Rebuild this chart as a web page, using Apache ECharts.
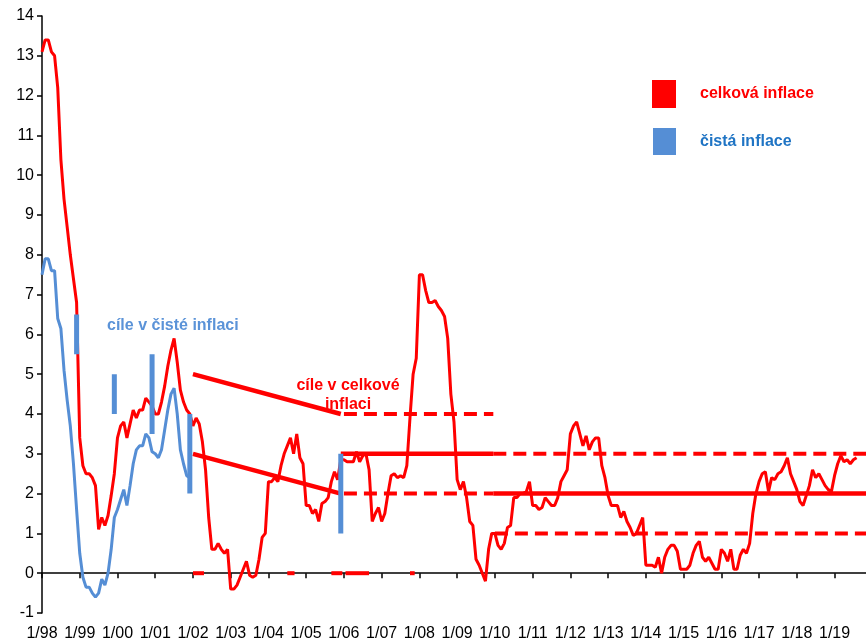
<!DOCTYPE html>
<html><head><meta charset="utf-8">
<script src="https://cdn.jsdelivr.net/npm/echarts@6/dist/echarts.min.js"></script>
<style>html,body{margin:0;padding:0;background:#fff}#c{width:866px;height:642px}</style>
</head><body><div id="c"></div>
<script>
// month index 0 = 1/1998
const tickLabels = ['1/98','1/99','1/00','1/01','1/02','1/03','1/04','1/05','1/06','1/07','1/08','1/09','1/10','1/11','1/12','1/13','1/14','1/15','1/16','1/17','1/18','1/19'];
const tickMonths = tickLabels.map((_, i) => i * 12);

// celková inflace (headline), monthly from 1/98
const headline = [
  13.1, 13.4, 13.4, 13.1, 13.0, 12.2, 10.4, 9.4, 8.7, 8.0, 7.4, 6.8,
  3.4, 2.7, 2.5, 2.5, 2.4, 2.2, 1.1, 1.4, 1.2, 1.45, 1.95, 2.5,
  3.4, 3.7, 3.8, 3.4, 3.75, 4.1, 3.9, 4.1, 4.1, 4.4, 4.3, 4.2,
  4.0, 4.0, 4.3, 4.7, 5.2, 5.6, 5.9, 5.3, 4.6, 4.3, 4.1, 4.0,
  3.7, 3.9, 3.75, 3.3, 2.6, 1.4, 0.6, 0.6, 0.75, 0.6, 0.5, 0.6,
  -0.4, -0.4, -0.3, -0.1, 0.1, 0.3, -0.05, -0.1, -0.05, 0.35, 0.9, 1.0,
  2.3, 2.3, 2.4, 2.3, 2.7, 3.0, 3.2, 3.4, 3.0, 3.5, 2.9, 2.75,
  1.7, 1.7, 1.5, 1.6, 1.3, 1.75, 1.8, 1.9, 2.3, 2.55, 2.35, 2.85,
  2.85, 2.8, 2.8, 2.8, 3.05, 2.8, 2.95, 3.0, 2.6, 1.3, 1.5, 1.65,
  1.3, 1.5, 2.0, 2.45, 2.5, 2.4, 2.45, 2.4, 2.7, 3.9, 5.0, 5.4,
  7.5, 7.5, 7.1, 6.8, 6.8, 6.85, 6.7, 6.6, 6.45, 5.9, 4.5, 3.8,
  2.35, 2.1, 2.3, 1.9, 1.3, 1.2, 0.35, 0.2, 0.0, -0.2, 0.6, 1.0,
  1.0, 0.7, 0.6, 0.75, 1.15, 1.2, 1.9, 1.9, 2.0, 2.0, 2.05, 2.3,
  1.7, 1.7, 1.6, 1.65, 1.9, 1.8, 1.7, 1.7, 1.9, 2.3, 2.45, 2.6,
  3.5, 3.7, 3.8, 3.5, 3.2, 3.45, 3.1, 3.3, 3.4, 3.4, 2.7, 2.4,
  1.95, 1.7, 1.7, 1.7, 1.4, 1.55, 1.3, 1.15, 0.95, 1.0, 1.2, 1.4,
  0.2, 0.2, 0.2, 0.15, 0.4, 0.0, 0.4, 0.6, 0.7, 0.7, 0.55, 0.1,
  0.1, 0.1, 0.2, 0.5, 0.7, 0.8, 0.4, 0.3, 0.4, 0.25, 0.1, 0.1,
  0.6, 0.5, 0.3, 0.6, 0.1, 0.1, 0.45, 0.6, 0.5, 0.75, 1.5, 2.0,
  2.3, 2.5, 2.55, 2.05, 2.4, 2.35, 2.5, 2.55, 2.7, 2.9, 2.5, 2.3,
  2.1, 1.8, 1.7, 1.95, 2.2, 2.6, 2.4, 2.5, 2.35, 2.2, 2.1, 2.05,
  2.45, 2.75, 2.95, 2.8, 2.85, 2.75, 2.85, 2.9
];

// čistá inflace (net inflation), monthly from 1/98
const core = [
  7.5, 7.9, 7.9, 7.6, 7.6, 6.4, 6.15, 5.1, 4.35, 3.7, 2.75, 1.6,
  0.5, -0.1, -0.35, -0.35, -0.5, -0.6, -0.5, -0.15, -0.3, 0.0, 0.6, 1.4,
  1.6, 1.85, 2.1, 1.7, 2.2, 2.75, 3.1, 3.2, 3.2, 3.5, 3.4, 3.05,
  3.0, 2.9, 3.1, 3.6, 4.1, 4.5, 4.65, 4.0, 3.1, 2.75, 2.45, 2.4
];

// targets for net inflation (vertical bands), December months
const coreTargetMonths = [11, 23, 35, 47, 95];
const coreTargetLow  = [5.5, 4.0, 3.5, 2.0, 1.0];
const coreTargetHigh = [6.5, 5.0, 5.5, 4.0, 3.0];

// targets for headline inflation: [startMonth, startValue, endMonth, endValue]
const headlineTargetSolid = [
  [48, 5, 95, 4],
  [48, 3, 95, 2],
  [95, 3, 143.5, 3],
  [143.5, 2, 262, 2]
];
const headlineTargetDashed = [
  [96, 4, 143.5, 4],
  [96, 2, 143.5, 2],
  [143.5, 3, 262, 3],
  [144, 1, 262, 1]
];
// short red segments on the zero line: [startMonth, endMonth]
const zeroSegments = [[48, 51.5], [78, 80.3], [92, 95.5], [96.5, 104], [117, 118.5]];

const RED = '#ff0000';
const BLUE = '#558ED5';
const FONT = '"Liberation Sans", Arial, sans-serif';

const series = [];
headlineTargetSolid.forEach(s => series.push({
  type: 'line', silent: true, symbol: 'none', z: 2,
  data: [[s[0], s[1]], [s[2], s[3]]],
  lineStyle: { color: RED, width: 4.5 }
}));
headlineTargetDashed.forEach(s => series.push({
  type: 'line', silent: true, symbol: 'none', z: 2,
  data: [[s[0], s[1]], [s[2], s[3]]],
  lineStyle: { color: RED, width: 4, type: [13, 7] }
}));
zeroSegments.forEach(s => series.push({
  type: 'line', silent: true, symbol: 'none', z: 2,
  data: [[s[0], 0], [s[1], 0]],
  lineStyle: { color: RED, width: 4 }
}));
series.push({
  name: 'celková inflace', type: 'line', symbol: 'none', z: 4,
  data: headline.map((v, i) => [i, v]),
  itemStyle: { color: RED },
  lineStyle: { color: RED, width: 3 }
});
series.push({
  name: 'čistá inflace', type: 'line', symbol: 'none', z: 4,
  data: core.map((v, i) => [i, v]),
  itemStyle: { color: BLUE },
  lineStyle: { color: BLUE, width: 3 }
});
coreTargetMonths.forEach((m, i) => series.push({
  type: 'line', silent: true, symbol: 'none', z: 6,
  data: [[m, coreTargetLow[i]], [m, coreTargetHigh[i]]],
  lineStyle: { color: BLUE, width: 5, cap: 'butt' }
}));

const chart = echarts.init(document.getElementById('c'), null, { renderer: 'canvas' });
chart.setOption({
  animation: false,
  backgroundColor: '#fff',
  grid: { left: 42, right: 0, top: 16, bottom: 29, containLabel: false, outerBoundsMode: 'none' },
  xAxis: {
    type: 'value', min: 0, max: 262, interval: 12,
    axisLine: { onZero: true, lineStyle: { color: '#000', width: 1.5 } },
    axisTick: { show: true, length: 5, inside: false, customValues: tickMonths, lineStyle: { color: '#000', width: 1.5 } },
    axisLabel: {
      margin: 13, fontSize: 16, color: '#000', fontFamily: FONT,
      customValues: tickMonths,
      formatter: v => tickLabels[Math.round(v / 12)] || ''
    },
    splitLine: { show: false }
  },
  yAxis: {
    type: 'value', min: -1, max: 14, interval: 1,
    axisLine: { show: true, onZero: false, lineStyle: { color: '#000', width: 1.5 } },
    axisTick: { show: true, length: 5, lineStyle: { color: '#000', width: 1.5 } },
    axisLabel: { margin: 8, fontSize: 16, color: '#000', fontFamily: FONT },
    splitLine: { show: false }
  },
  legend: [
    {
      data: [{ name: 'celková inflace', textStyle: { color: RED } }],
      left: 652, top: 80, padding: 0, icon: 'rect', itemWidth: 24, itemHeight: 28,
      selectedMode: false,
      textStyle: { fontSize: 16, fontWeight: 'bold', fontFamily: FONT, padding: [0, 0, 0, 19] }
    },
    {
      data: [{ name: 'čistá inflace', textStyle: { color: '#1f74c4' } }],
      left: 653, top: 128, padding: 0, icon: 'rect', itemWidth: 23, itemHeight: 27,
      selectedMode: false,
      textStyle: { fontSize: 16, fontWeight: 'bold', fontFamily: FONT, padding: [0, 0, 9, 19] }
    }
  ],
  graphic: [
    {
      type: 'text', z: 10,
      style: { text: 'cíle v čisté inflaci', x: 107, y: 318, fill: '#5B93D8',
        fontSize: 16, fontWeight: 'bold', fontFamily: FONT }
    },
    {
      type: 'text', z: 10,
      style: { text: 'cíle v celkové\ninflaci', x: 348, y: 376, align: 'center', verticalAlign: 'top',
        lineHeight: 19, fill: RED, fontSize: 16, fontWeight: 'bold', fontFamily: FONT }
    }
  ],
  series: series
});
</script>
</body></html>
